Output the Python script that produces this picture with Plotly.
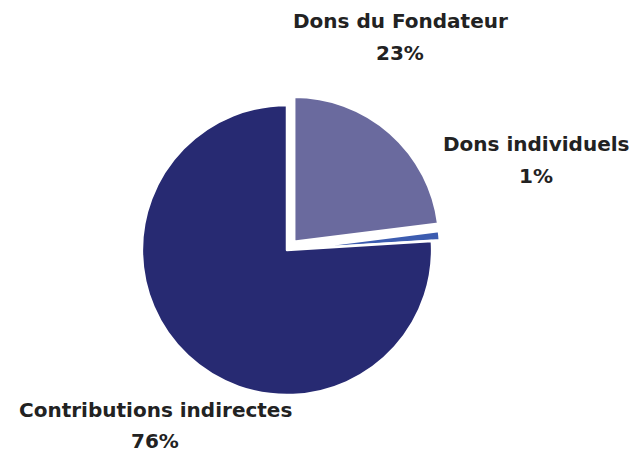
import plotly.graph_objects as go

labels = ["Dons du Fondateur", "Dons individuels", "Contributions indirectes"]
values = [23, 1, 76]
pct_labels = ["23%", "1%", "76%"]
colors = ["#6a6a9e", "#3c5cb0", "#272a72"]
pulls = [0.075, 0.055, 0]

W, H = 630, 444  # page body has an 8px margin

fig = go.Figure(go.Pie(
    labels=labels, values=values, sort=False, direction="clockwise", rotation=0,
    pull=pulls, textinfo="none", hoverinfo="label+percent",
    marker=dict(colors=colors, line=dict(color="white", width=2.5)),
    domain=dict(x=[(279 - 156) / W, (279 + 156) / W],
                y=[(202 - 156) / H, (202 + 156) / H]),
    showlegend=False,
))

label_pos = [(392, 13, 45), (528, 136, 168), (147, 402, 433)]
font = dict(family="DejaVu Sans", size=20, color="#222222")
for name, pct, (cx, y1, y2) in zip(labels, pct_labels, label_pos):
    for txt, yy in ((name, y1), (pct, y2)):
        fig.add_annotation(text=f"<b>{txt}</b>", x=cx / W, y=1 - yy / H,
                           xref="paper", yref="paper", showarrow=False,
                           xanchor="center", yanchor="middle", font=font)

fig.update_layout(width=W, height=H, margin=dict(l=0, r=0, t=0, b=0),
                  paper_bgcolor="white", plot_bgcolor="white")
fig.write_html("out.html")
